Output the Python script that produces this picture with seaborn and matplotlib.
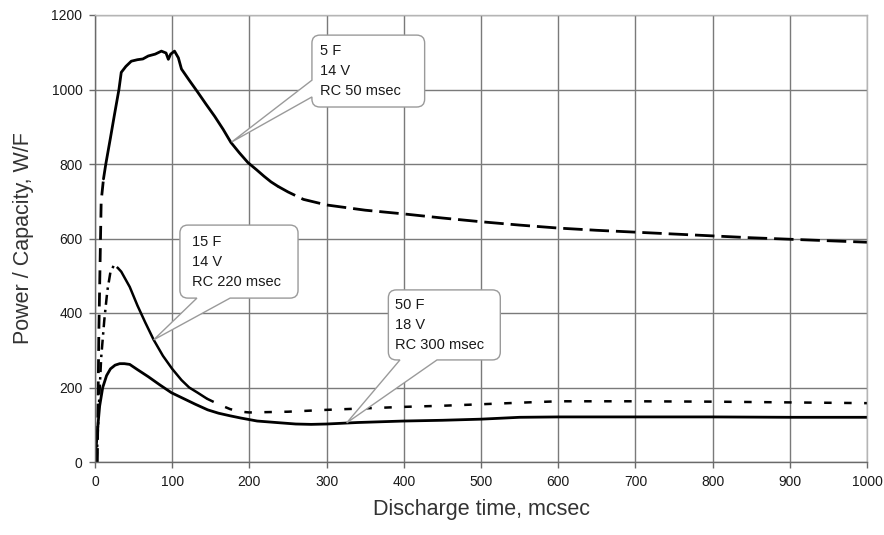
import numpy as np
import matplotlib
matplotlib.use("Agg")
import matplotlib.pyplot as plt
import seaborn as sns
from matplotlib.path import Path
from matplotlib.patches import PathPatch
from matplotlib.transforms import IdentityTransform

# ---- data ----
t_5F = [3, 5, 8, 11, 14, 20, 25, 31, 34, 40, 47, 55, 62, 69, 78, 86, 92, 95, 98,
        103, 108, 112, 122, 133, 144, 155, 166, 176, 187, 198, 209, 219, 228, 237,
        250, 270, 300, 350, 400, 450, 500, 550, 600, 650, 700, 750, 800, 850, 900,
        950, 1000]
p_5F = [0, 350, 700, 760, 800, 870, 930, 1000, 1046, 1062, 1076, 1080, 1082, 1090,
        1095, 1103, 1098, 1081, 1095, 1103, 1085, 1055, 1025, 993, 960, 928, 893,
        858, 830, 804, 785, 767, 752, 740, 725, 705, 690, 676, 666, 655, 645, 636,
        628, 622, 617, 612, 607, 602, 598, 594, 590]

t_15F = [2, 5, 8, 12, 16, 20, 25, 30, 34, 45, 55, 65, 76, 88, 100, 112, 122, 133,
         145, 160, 175, 189, 200, 250, 300, 350, 400, 450, 500, 560, 600, 700, 800,
         900, 1000]
p_15F = [0, 150, 280, 380, 460, 510, 530, 520, 511, 470, 420, 375, 328, 285, 250,
         220, 200, 186, 170, 155, 142, 135, 133, 135, 140, 144, 148, 151, 155, 160,
         163, 163, 162, 160, 158]

t_50F = [0, 3, 6, 10, 15, 20, 26, 32, 38, 45, 55, 69, 84, 99, 115, 130, 146, 160,
         175, 189, 210, 241, 260, 280, 300, 320, 340, 400, 450, 500, 550, 600, 700,
         800, 900, 1000]
p_50F = [0, 80, 150, 200, 232, 250, 260, 264, 264, 262, 248, 229, 207, 186, 170,
         155, 140, 131, 124, 118, 110, 105, 102, 101, 102, 104, 106, 110, 112, 115,
         120, 121, 121, 121, 120, 120]

x_ticks = [0, 100, 200, 300, 400, 500, 600, 700, 800, 900, 1000]
y_ticks = [0, 200, 400, 600, 800, 1000, 1200]

labels = {
    "5F": "5 F\n14 V\nRC 50 msec",
    "15F": "15 F\n14 V\nRC 220 msec",
    "50F": "50 F\n18 V\nRC 300 msec",
}

# ---- figure ----
sns.set_theme(style="whitegrid")
plt.rcParams["font.family"] = ["Liberation Sans", "DejaVu Sans"]

fig = plt.figure(figsize=(8.84, 5.35), dpi=100)
ax = fig.add_axes([95 / 884, 1 - 462 / 535, (867 - 95) / 884, (462 - 15) / 535])
ax.set_facecolor("white")

def seg(t, p, lo, hi):
    t = np.asarray(t, float); p = np.asarray(p, float)
    m = (t >= lo) & (t <= hi)
    return t[m], p[m]

lw = 2.0
# 5 F curve: dashed start, solid body, long-dash tail
for lo, hi, ls in [(0, 11, (0, (5, 3))), (11, 237, "-"), (237, 1000, (0, (7, 2.5)))]:
    x, y = seg(t_5F, p_5F, lo, hi)
    sns.lineplot(x=x, y=y, ax=ax, color="black", linewidth=lw, linestyle=ls, sort=False)

# 15 F curve: dash-dot rise, solid fall, dotted/dashed tail
for lo, hi, ls in [(0, 30, (0, (4, 2, 1, 2))), (30, 145, "-"), (145, 1000, (0, (3, 5)))]:
    x, y = seg(t_15F, p_15F, lo, hi)
    sns.lineplot(x=x, y=y, ax=ax, color="black", linewidth=lw * 0.9, linestyle=ls, sort=False)

# 50 F curve: solid
sns.lineplot(x=t_50F, y=p_50F, ax=ax, color="black", linewidth=lw, sort=False)

ax.set_xlim(0, 1000)
ax.set_ylim(0, 1200)
ax.set_xticks(x_ticks)
ax.set_yticks(y_ticks)
ax.set_xticklabels([str(v) for v in x_ticks])
ax.set_yticklabels([str(v) for v in y_ticks])
ax.grid(True, color="#7a7a7a", linewidth=1.0)
ax.set_axisbelow(True)
for s in ["left", "bottom"]:
    ax.spines[s].set_color("#6a6a6a")
    ax.spines[s].set_linewidth(1.0)
for s in ["top", "right"]:
    ax.spines[s].set_color("#b5b5b5")
    ax.spines[s].set_linewidth(1.0)
ax.tick_params(axis="both", which="both", direction="out", length=4, width=1,
               color="#6a6a6a", labelsize=10, labelcolor="#1a1a1a", pad=5,
               bottom=True, left=True)

ax.set_xlabel("Discharge time, mcsec", fontsize=15.5, color="#333333")
ax.set_ylabel("Power / Capacity, W/F", fontsize=15.5, color="#333333")
ax.xaxis.set_label_coords(0.5, -(510 - 462) / 447, transform=ax.transAxes)
ax.yaxis.set_label_coords(-(95 - 24) / 772, 0.5, transform=ax.transAxes)
for lab in ax.xaxis.get_label(), ax.yaxis.get_label():
    lab.set_va("center")


def callout(ax, box, tip, base, side, text, tx, r=8):
    """Rounded speech-bubble with a wedge pointing at tip (data coords)."""
    T = ax.transData
    X0, Y0 = T.transform((box[0], box[1]))
    X1, Y1 = T.transform((box[2], box[3]))
    TX, TY = T.transform(tip)
    V, C = [], []
    V.append((X0 + r, Y0)); C.append(Path.MOVETO)
    if side == "bottom":
        b1 = T.transform((base[0], box[1]))[0]
        b2 = T.transform((base[1], box[1]))[0]
        V += [(b1, Y0), (TX, TY), (b2, Y0)]; C += [Path.LINETO] * 3
    V += [(X1 - r, Y0), (X1, Y0), (X1, Y0 + r)]; C += [Path.LINETO, Path.CURVE3, Path.CURVE3]
    V += [(X1, Y1 - r), (X1, Y1), (X1 - r, Y1)]; C += [Path.LINETO, Path.CURVE3, Path.CURVE3]
    V += [(X0 + r, Y1), (X0, Y1), (X0, Y1 - r)]; C += [Path.LINETO, Path.CURVE3, Path.CURVE3]
    if side == "left":
        b_hi = T.transform((box[0], base[1]))[1]
        b_lo = T.transform((box[0], base[0]))[1]
        V += [(X0, b_hi), (TX, TY), (X0, b_lo)]; C += [Path.LINETO] * 3
    V += [(X0, Y0 + r), (X0, Y0), (X0 + r, Y0)]; C += [Path.LINETO, Path.CURVE3, Path.CURVE3]
    V.append((X0 + r, Y0)); C.append(Path.CLOSEPOLY)
    patch = PathPatch(Path(V, C), facecolor="white", edgecolor="#9a9a9a", lw=1.0,
                      transform=IdentityTransform(), zorder=5, clip_on=False)
    ax.add_artist(patch)
    ax.text(tx, (box[1] + box[3]) / 2, text, ha="left", va="center", fontsize=10.5,
            color="#1a1a1a", linespacing=1.55, zorder=6)


callout(ax, (281, 953, 427, 1146), (177, 859), (980, 1025), "left", labels["5F"], 291)
callout(ax, (110, 440, 263, 636), (76, 328), (132, 175), "bottom", labels["15F"], 126)
callout(ax, (380, 274, 525, 462), (326, 105), (395, 443), "bottom", labels["50F"], 389)

fig.savefig("out.png", dpi=100, facecolor="white")
